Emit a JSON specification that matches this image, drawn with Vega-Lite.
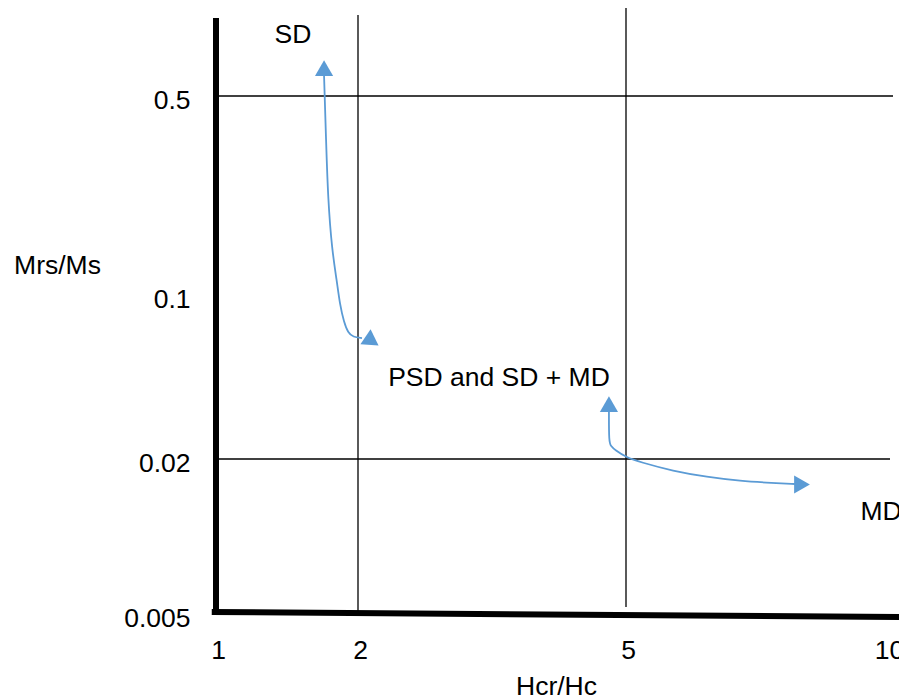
{
  "$schema": "https://vega.github.io/schema/vega-lite/v6.json",
  "autosize": {"type": "none"},
  "padding": {"left": 216, "top": 8, "right": 0, "bottom": 84},
  "width": 683,
  "height": 606,
  "background": "white",
  "config": {"view": {"stroke": null}, "font": "Liberation Sans"},
  "datasets": {
    "grid": [
      {"x": 2, "x2": 2, "y": 0.0052, "y2": 0.96},
      {"x": 5, "x2": 5, "y": 0.00567, "y2": 1.0},
      {"x": 1, "x2": 10.1, "y": 0.5, "y2": 0.5},
      {"x": 1, "x2": 10.05, "y": 0.02, "y2": 0.02}
    ],
    "frame": [
      {"x": 1, "x2": 1, "y": 0.005, "y2": 0.943},
      {"x": 0.97, "x2": 10.2, "y": 0.00519, "y2": 0.0047}
    ],
    "curves": [
      {"path": "SD", "i": 0, "x": 1.761, "y": 0.614},
      {"path": "SD", "i": 1, "x": 1.775, "y": 0.4116},
      {"path": "SD", "i": 2, "x": 1.789, "y": 0.291},
      {"path": "SD", "i": 3, "x": 1.817, "y": 0.1905},
      {"path": "SD", "i": 4, "x": 1.85, "y": 0.13},
      {"path": "SD", "i": 5, "x": 1.873, "y": 0.0951},
      {"path": "SD", "i": 6, "x": 1.901, "y": 0.0868},
      {"path": "SD", "i": 7, "x": 1.93, "y": 0.0815},
      {"path": "SD", "i": 8, "x": 1.965, "y": 0.0795},
      {"path": "SD", "i": 9, "x": 2.045, "y": 0.079},
      {"path": "MD", "i": 0, "x": 4.809, "y": 0.0429},
      {"path": "MD", "i": 1, "x": 4.809, "y": 0.0283},
      {"path": "MD", "i": 2, "x": 4.831, "y": 0.0263},
      {"path": "MD", "i": 3, "x": 4.876, "y": 0.0244},
      {"path": "MD", "i": 4, "x": 5.0, "y": 0.0209},
      {"path": "MD", "i": 5, "x": 5.268, "y": 0.0197},
      {"path": "MD", "i": 6, "x": 5.9, "y": 0.01884},
      {"path": "MD", "i": 7, "x": 6.552, "y": 0.01826},
      {"path": "MD", "i": 8, "x": 7.184, "y": 0.01787},
      {"path": "MD", "i": 9, "x": 7.817, "y": 0.01768},
      {"path": "MD", "i": 10, "x": 8.238, "y": 0.01758}
    ],
    "heads": [
      {"x": 1.761, "y": 0.659, "dir": "up", "angle": 0},
      {"x": 2.157, "y": 0.0775, "dir": "right", "angle": 34},
      {"x": 4.809, "y": 0.0468, "dir": "up", "angle": 0},
      {"x": 8.372, "y": 0.01753, "dir": "right", "angle": 0}
    ],
    "notes": [
      {"x": 1.542, "y": 0.801, "text": "SD"},
      {"x": 3.578, "y": 0.0556, "text": "PSD and SD + MD"},
      {"x": 9.886, "y": 0.0141, "text": "MD"}
    ]
  },
  "encoding": {
    "x": {
      "field": "x", "type": "quantitative",
      "scale": {"type": "linear", "domain": [1, 2, 5, 10, 11], "range": [0, 142, 410, 671, 731], "nice": false, "zero": false},
      "axis": {
        "values": [1, 2, 5, 10], "format": "d", "title": "Hcr/Hc",
        "domain": false, "ticks": false, "grid": false,
        "labelFont": "Liberation Sans", "labelFontSize": 26.5, "labelColor": "black",
        "labelPadding": 23, "labelOffset": 2, "labelFlush": false, "labelBound": false, "labelOverlap": false,
        "titleFont": "Liberation Sans", "titleFontSize": 26.5, "titleFontWeight": "normal", "titleColor": "black",
        "titleX": 340, "titleY": 80, "titleAlign": "center", "titleBaseline": "alphabetic", "titleAngle": 0
      }
    },
    "y": {
      "field": "y", "type": "quantitative",
      "scale": {"type": "linear", "domain": [0.005, 0.02, 0.1, 0.5, 1], "range": [606, 451, 287, 88, 0], "nice": false, "zero": false},
      "axis": {
        "values": [0.005, 0.02, 0.1, 0.5], "format": "~g", "title": "Mrs/Ms",
        "domain": false, "ticks": false, "grid": false,
        "labelFont": "Liberation Sans", "labelFontSize": 26.5, "labelColor": "black",
        "labelPadding": 26, "labelOffset": 4, "labelBaseline": "middle", "labelFlush": false, "labelBound": false, "labelOverlap": false,
        "titleFont": "Liberation Sans", "titleFontSize": 26.5, "titleFontWeight": "normal", "titleColor": "black",
        "titleX": -159, "titleY": 265, "titleAlign": "center", "titleBaseline": "alphabetic", "titleAngle": 0
      }
    }
  },
  "layer": [
    {
      "data": {"name": "grid"},
      "mark": {"type": "rule", "color": "black", "strokeWidth": 1.3},
      "encoding": {"x2": {"field": "x2"}, "y2": {"field": "y2"}}
    },
    {
      "data": {"name": "frame"},
      "mark": {"type": "rule", "color": "black", "strokeWidth": 6},
      "encoding": {"x2": {"field": "x2"}, "y2": {"field": "y2"}}
    },
    {
      "data": {"name": "curves"},
      "mark": {"type": "line", "color": "#5B9BD5", "strokeWidth": 1.8, "interpolate": "basis"},
      "encoding": {"detail": {"field": "path"}, "order": {"field": "i", "type": "quantitative"}}
    },
    {
      "data": {"name": "heads"},
      "mark": {"type": "point", "filled": true, "color": "#5B9BD5", "opacity": 1, "size": 330},
      "encoding": {
        "shape": {"field": "dir", "type": "nominal", "scale": {"domain": ["up", "right"], "range": ["triangle-up", "triangle-right"]}, "legend": null},
        "angle": {"field": "angle", "type": "quantitative", "scale": null}
      }
    },
    {
      "data": {"name": "notes"},
      "mark": {"type": "text", "font": "Liberation Sans", "fontSize": 26.5, "color": "black", "baseline": "alphabetic", "align": "center"},
      "encoding": {
        "text": {"field": "text"}
      }
    }
  ]
}
